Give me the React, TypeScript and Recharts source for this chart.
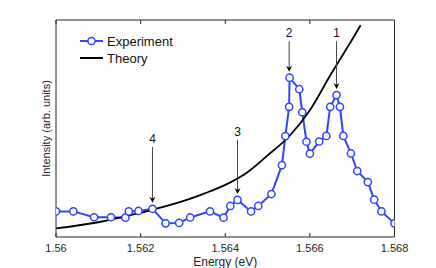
import React from 'react';
import { LineChart, Line, XAxis, YAxis, ReferenceLine, Legend } from 'recharts';

// experiment (blue circles)
const expEnergy = [
  1.5600, 1.56041, 1.5609, 1.5613, 1.56164, 1.56172, 1.56195, 1.56228, 1.56259, 1.56291,
  1.56317, 1.56364, 1.56396, 1.56412, 1.56429, 1.56461, 1.56478, 1.56509, 1.56534, 1.56542,
  1.56551, 1.56552, 1.56575, 1.56582, 1.56592, 1.566, 1.56622, 1.56639, 1.56648, 1.56663,
  1.56671, 1.56679, 1.56697, 1.56712, 1.56737, 1.56752, 1.56769, 1.568,
];
const expIntensity = [
  0.118, 0.118, 0.091, 0.091, 0.089, 0.118, 0.12, 0.13, 0.063, 0.065,
  0.09, 0.118, 0.089, 0.143, 0.171, 0.118, 0.143, 0.198, 0.331, 0.465,
  0.6, 0.734, 0.681, 0.575, 0.439, 0.384, 0.44, 0.466, 0.6, 0.654,
  0.6, 0.466, 0.385, 0.304, 0.253, 0.172, 0.118, 0.063,
];

// theory (black curve)
const theoryEnergy = [1.56, 1.561, 1.562, 1.563, 1.5635, 1.564, 1.5645, 1.565, 1.5655, 1.566, 1.5665, 1.567, 1.5672];
const theoryIntensity = [0.04, 0.068, 0.112, 0.165, 0.2, 0.24, 0.295, 0.376, 0.462, 0.584, 0.751, 0.91, 0.976];

const xTicks = [1.56, 1.562, 1.564, 1.566, 1.568];

// numbered arrows: label, energy, arrow tip (point value), label height
const peakLabels = ['1', '2', '3', '4'];
const peakEnergy = [1.56663, 1.56551, 1.56429, 1.56228];
const peakTip = [0.654, 0.734, 0.171, 0.13];
const peakText = [0.939, 0.939, 0.485, 0.452];

const expData = expEnergy.map((e, i) => ({ energy: e, intensity: expIntensity[i] }));
const theoryData = theoryEnergy.map((e, i) => ({ energy: e, intensity: theoryIntensity[i] }));

const FONT = '"Liberation Sans", Arial, Helvetica, sans-serif';
const AXIS = '#262626';
const BLUE = '#2f45ff';

const BottomTick = ({ x, y, payload }: any) => (
  <g>
    <line x1={x} x2={x} y1={y} y2={y - 4} stroke={AXIS} />
    <text x={x} y={y + 11} textAnchor="middle" dominantBaseline="central" fontSize={11} fontFamily={FONT} fill={AXIS}>
      {String(payload.value)}
    </text>
  </g>
);

const TopTick = ({ x, y }: any) => <line x1={x} x2={x} y1={y} y2={y + 4} stroke={AXIS} />;

const ExpDot = ({ cx, cy, index }: any) => (
  <circle key={`d-${index}`} cx={cx} cy={cy} r={3.6} stroke={BLUE} strokeWidth={1.5} fill="#fff" />
);

const Arrow = (label: string) => (p: any) => {
  const { x1, y1, y2 } = p;
  const tip = y2 - 6;
  return (
    <g>
      <text x={x1} y={y1} textAnchor="middle" dominantBaseline="central" fontSize={12} fontFamily={FONT} fill="#111">
        {label}
      </text>
      <line x1={x1} x2={x1} y1={y1 + 8} y2={tip - 3} stroke="#444" strokeWidth={1} />
      <path d={`M${x1},${tip} L${x1 - 3},${tip - 6} L${x1},${tip - 4} L${x1 + 3},${tip - 6} Z`} fill="#000" />
    </g>
  );
};

const YLabel = ({ viewBox }: any) => {
  const cx = viewBox.x + viewBox.width - 10;
  const cy = viewBox.y + viewBox.height / 2;
  return (
    <text x={cx} y={cy} transform={`rotate(-90, ${cx}, ${cy})`} textAnchor="middle" dominantBaseline="central"
      fontSize={11} fontFamily={FONT} fill={AXIS}>
      Intensity (arb. units)
    </text>
  );
};

const XLabel = ({ viewBox }: any) => (
  <text x={viewBox.x + viewBox.width / 2} y={viewBox.y + 25} textAnchor="middle" dominantBaseline="central"
    fontSize={12} fontFamily={FONT} fill={AXIS}>
    Energy (eV)
  </text>
);

const LegendBox = ({ payload }: any) => (
  <svg width={110} height={36}>
    {(payload || []).map((entry: any, i: number) => (
      <g key={entry.value} transform={`translate(0, ${i * 17})`}>
        <line x1={0} x2={23} y1={9} y2={9} stroke={entry.color} strokeWidth={2} />
        {entry.value === 'Experiment' && <circle cx={11.5} cy={9} r={3.6} stroke={BLUE} strokeWidth={1.5} fill="#fff" />}
        <text x={27} y={9} dominantBaseline="central" fontSize={13} fontFamily={FONT} fill="#111">
          {entry.value}
        </text>
      </g>
    ))}
  </svg>
);

export default function App() {
  return (
    <div style={{ position: 'absolute', left: 0, top: 0, background: '#fff' }}>
      <LineChart width={436} height={268} margin={{ top: 0, right: 0, bottom: 0, left: 0 }}>
        <XAxis dataKey="energy" type="number" domain={[1.56, 1.568]} ticks={xTicks} allowDataOverflow
          height={31} tickSize={0} tickMargin={0} tickLine={false} tick={<BottomTick />}
          axisLine={{ stroke: AXIS }} label={XLabel} />
        <XAxis xAxisId="top" orientation="top" dataKey="energy" type="number" domain={[1.56, 1.568]} ticks={xTicks}
          allowDataOverflow height={20} tickSize={0} tickMargin={0} tickLine={false} tick={<TopTick />}
          axisLine={{ stroke: AXIS }} />
        <YAxis type="number" domain={[0, 1]} width={56} tick={false} tickLine={false} axisLine={{ stroke: AXIS }}
          label={YLabel} />
        <YAxis yAxisId="right" orientation="right" type="number" domain={[0, 1]} width={41.5} tick={false}
          tickLine={false} axisLine={{ stroke: AXIS }} />
        <Legend layout="vertical" align="center" verticalAlign="middle" wrapperStyle={{ left: 80, top: 32 }}
          content={LegendBox} />
        <Line data={expData} dataKey="intensity" name="Experiment" type="linear" stroke={BLUE} strokeWidth={2}
          dot={ExpDot} activeDot={false} isAnimationActive={false} />
        <Line data={theoryData} dataKey="intensity" name="Theory" type="monotone" stroke="#000" strokeWidth={1.8}
          dot={false} activeDot={false} isAnimationActive={false} />
        {peakLabels.map((lab, i) => (
          <ReferenceLine key={lab} segment={[{ x: peakEnergy[i], y: peakText[i] }, { x: peakEnergy[i], y: peakTip[i] }]}
            shape={Arrow(lab)} />
        ))}
      </LineChart>
    </div>
  );
}
